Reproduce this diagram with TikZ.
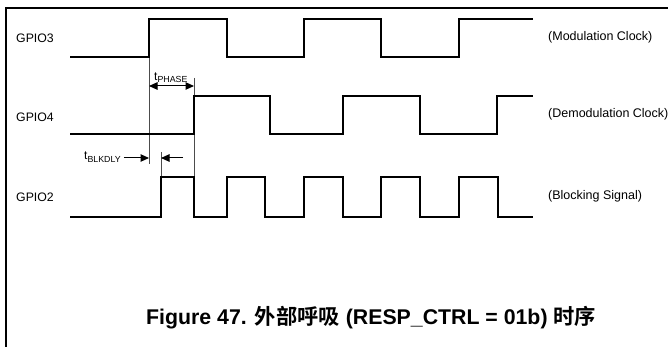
\documentclass[tikz,border=0pt]{standalone}
\usepackage{fontspec}
\setmainfont{Liberation Sans}
\newfontfamily\cjk{Noto Sans CJK SC}[BoldFont={Noto Sans CJK SC Bold}]
\usepackage{tikz}
\usetikzlibrary{arrows.meta}

\begin{document}
\begin{tikzpicture}[x=1pt, y=-1pt,
  wave/.style={line width=1.9pt, line join=miter},
  guide/.style={line width=0.8pt, black!70},
  dimline/.style={line width=1pt, -{Triangle[length=8.5pt,width=7.5pt]}},
  sig/.style={font=\fontsize{12.3}{14}\selectfont, anchor=base west, inner sep=0pt},
  note/.style={font=\fontsize{12.5}{14}\selectfont, anchor=base west, inner sep=0pt},
  tlabel/.style={font=\fontsize{12}{14}\selectfont, anchor=base west, inner sep=0pt}
]
\useasboundingbox (0,0) rectangle (668,347);
\draw[line width=1.3pt] (6,347) -- (6,8) -- (668,8);

% signal names
\node[sig] (g3) at (16,43) {GPIO3};
\node[sig] (g4) at (16,122) {GPIO4};
\node[sig] (g2) at (16,201.5) {GPIO2};

% timing guides
\draw[guide] (149,57) -- (149,164);
\draw[guide] (161,152) -- (161,177);
\draw[guide] (194,78) -- (194,177);

% waveforms
\draw[wave] (70,57) -| (149,19) -| (227,57) -| (304,19) -| (381,57) -| (459,19) -- (533,19);
\draw[wave] (70,134) -| (194,96) -| (270,134) -| (343,96) -| (420,134) -| (497,96) -- (533,96);
\draw[wave] (70,217) -| (161,177) -| (194,217) -| (227,177) -| (265,217) -| (304,177)
  -| (343,217) -| (381,177) -| (420,217) -| (459,177) -| (498,217) -- (533,217);

% t_PHASE
\coordinate (pa) at (149,86);
\coordinate (pb) at (194,86);
\draw[dimline, {Triangle[length=8.5pt,width=7.5pt]}-{Triangle[length=8.5pt,width=7.5pt]}] (pa) -- (pb);
\node[tlabel] (tph) at (154,80.5) {t\raisebox{-2.5pt}{\fontsize{8.8}{10}\selectfont PHASE}};

% t_BLKDLY
\node[tlabel] (tbl) at (84,160) {t\raisebox{-2.5pt}{\fontsize{8.8}{10}\selectfont BLKDLY}};
\coordinate (ba) at (149,158);
\coordinate (bb) at (161,158);
\draw[dimline] (tbl.east |- ba) ++(3,0) -- (ba);
\draw[dimline] (183,158) -- (bb);

% signal descriptions
\node[note] (n3) at (548,40.5) {(Modulation Clock)};
\node[note] (n4) at (548,118) {(Demodulation Clock)};
\node[note] (n2) at (548,200) {(Blocking Signal)};

% caption
\node[anchor=base west, inner sep=0pt, font=\fontsize{21.3}{24}\selectfont\bfseries] (cap) at (146,324)
  {Figure 47. {\cjk 外部呼吸} (RESP\_CTRL = 01b) {\cjk 时序}};
\end{tikzpicture}
\end{document}
